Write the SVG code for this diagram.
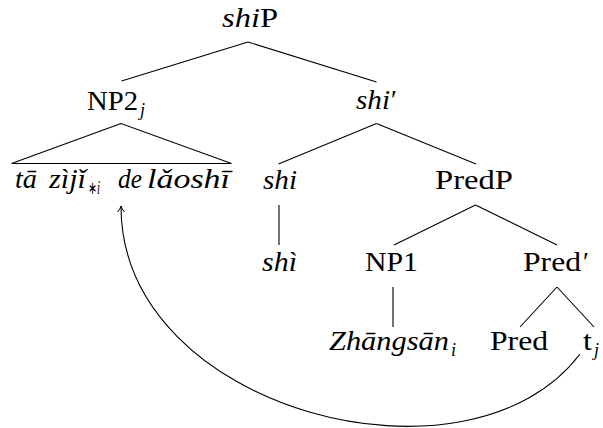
<svg xmlns="http://www.w3.org/2000/svg" width="603" height="428" viewBox="0 0 603 428">
<defs>
<marker id="arr" viewBox="0 0 10 10" refX="9" refY="5" markerWidth="10" markerHeight="10" markerUnits="userSpaceOnUse" orient="auto">
<path d="M3,1.5 Q6,4.2 9,5 Q6,5.8 3,8.5" fill="none" stroke="#000" stroke-width="1"/>
</marker>
</defs>
<rect width="603" height="428" fill="#fff"/>
<g id="connectors" stroke="#000" stroke-width="1.1" fill="none">
<line x1="248" y1="42" x2="121.5" y2="81"/>
<line x1="248" y1="42" x2="376.5" y2="82"/>
<path d="M121,123.5 L11.5,163.5 L231.5,163.5 Z"/>
<line x1="376.5" y1="123.5" x2="278.5" y2="164"/>
<line x1="376.5" y1="123.5" x2="476" y2="164"/>
<line x1="279" y1="205" x2="279" y2="245"/>
<line x1="475.5" y1="205" x2="394" y2="245"/>
<line x1="475.5" y1="205" x2="557" y2="245"/>
<line x1="393" y1="287" x2="393" y2="327"/>
<line x1="557" y1="287" x2="520" y2="327"/>
<line x1="557" y1="287" x2="594" y2="327"/>
<path d="M580,354 C470,500 121,412 121,206" marker-end="url(#arr)"/>
</g>
<g id="shiP" font-family="Liberation Serif, serif" font-size="27"><text x="222" y="27" textLength="56" lengthAdjust="spacingAndGlyphs"><tspan font-style="italic">shi</tspan>P</text></g>
<g id="NP2" font-family="Liberation Serif, serif" font-size="27"><text x="87" y="110" textLength="51" lengthAdjust="spacingAndGlyphs">NP2</text><text x="140" y="116" font-size="18" font-style="italic">j</text></g>
<g id="shibar" font-family="Liberation Serif, serif" font-size="27"><text x="356" y="109" font-style="italic" textLength="34" lengthAdjust="spacingAndGlyphs">shi</text><text x="391" y="109">′</text></g>
<g id="leaf" font-family="Liberation Serif, serif" font-size="27" font-style="italic">
<text x="15" y="188" textLength="22" lengthAdjust="spacingAndGlyphs">tā</text>
<text x="49" y="188" textLength="37" lengthAdjust="spacingAndGlyphs">zìjǐ</text>
<text x="88" y="194" font-size="18" textLength="12" lengthAdjust="spacingAndGlyphs"><tspan font-style="normal">∗</tspan>i</text>
<text x="118" y="188" textLength="24" lengthAdjust="spacingAndGlyphs">de</text>
<text x="147" y="188" textLength="83" lengthAdjust="spacingAndGlyphs">lǎoshī</text>
</g>
<g id="shi" font-family="Liberation Serif, serif" font-size="27"><text x="263" y="189" font-style="italic" textLength="34" lengthAdjust="spacingAndGlyphs">shi</text></g>
<g id="PredP" font-family="Liberation Serif, serif" font-size="27"><text x="435" y="189" textLength="78" lengthAdjust="spacingAndGlyphs">PredP</text></g>
<g id="shi2" font-family="Liberation Serif, serif" font-size="27"><text x="262" y="271" font-style="italic" textLength="35" lengthAdjust="spacingAndGlyphs">shì</text></g>
<g id="NP1" font-family="Liberation Serif, serif" font-size="27"><text x="365" y="271" textLength="53" lengthAdjust="spacingAndGlyphs">NP1</text></g>
<g id="Predbar" font-family="Liberation Serif, serif" font-size="27"><text x="523" y="271" textLength="58" lengthAdjust="spacingAndGlyphs">Pred</text><text x="583" y="271">′</text></g>
<g id="Zhangsan" font-family="Liberation Serif, serif" font-size="27" font-style="italic"><text x="329" y="350" textLength="120" lengthAdjust="spacingAndGlyphs">Zhāngsān</text><text x="451" y="356" font-size="18">i</text></g>
<g id="Pred" font-family="Liberation Serif, serif" font-size="27"><text x="490" y="350" textLength="58" lengthAdjust="spacingAndGlyphs">Pred</text></g>
<g id="tj" font-family="Liberation Serif, serif" font-size="27"><text x="583" y="350" textLength="9" lengthAdjust="spacingAndGlyphs">t</text><text x="594" y="356" font-size="18" font-style="italic">j</text></g>
</svg>
